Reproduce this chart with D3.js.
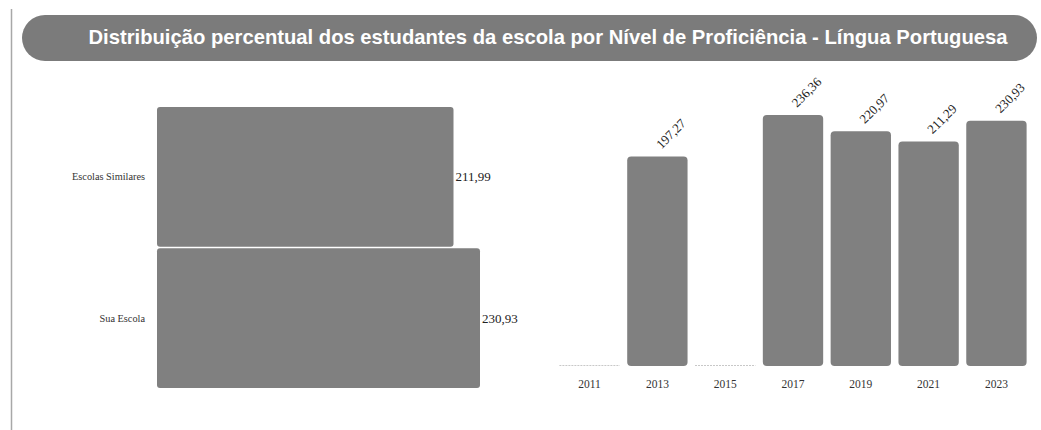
<!DOCTYPE html>
<html><head><meta charset="utf-8">
<script src="https://cdn.jsdelivr.net/npm/d3@7"></script>
<style>html,body{margin:0;padding:0;background:#fff;}svg{display:block;}</style>
</head><body>
<svg id="c" width="1041" height="430"></svg>
<script>
const titleText = "Distribuição percentual dos estudantes da escola por Nível de Proficiência - Língua Portuguesa";
const compCategories = ["Escolas Similares", "Sua Escola"];
const compValues = [211.99, 230.93];
const years = ["2011", "2013", "2015", "2017", "2019", "2021", "2023"];
const yearValues = [null, 197.27, null, 236.36, 220.97, 211.29, 230.93];

const fmt = v => v.toFixed(2).replace(".", ",");
const barColor = "#808080";
const serif = "Liberation Serif, Times New Roman, serif";
const svg = d3.select("#c");

// left border
svg.append("line").attr("x1", 11.5).attr("x2", 11.5).attr("y1", 9).attr("y2", 430)
  .attr("stroke", "#a8a8a8").attr("stroke-width", 1.5);

// title pill
svg.append("rect").attr("x", 22).attr("y", 15).attr("width", 1015).attr("height", 46)
  .attr("rx", 23).attr("fill", "#7b7b7b");
const tt = svg.append("text").attr("x", 548).attr("y", 44).attr("text-anchor", "middle")
  .attr("font-family", "Liberation Sans, Arial, sans-serif").attr("font-weight", "bold")
  .attr("font-size", 17).attr("fill", "#fff").text(titleText);
{
  const w = tt.node().getComputedTextLength();
  tt.attr("font-size", 17 * 920 / w);
}

// horizontal comparison chart
const xH = d3.scaleLinear().domain([0, 230.93]).range([157, 480]);
const yH = d3.scaleBand().domain(compCategories).range([107, 388]).paddingInner(0.01);
const gH = svg.append("g");
gH.selectAll("rect").data(compCategories).join("rect")
  .attr("x", xH(0)).attr("y", d => yH(d))
  .attr("width", (d, i) => xH(compValues[i]) - xH(0))
  .attr("height", yH.bandwidth()).attr("rx", 3).attr("fill", barColor);
gH.selectAll("text.cat").data(compCategories).join("text").attr("class", "cat")
  .attr("x", 145).attr("y", d => yH(d) + yH.bandwidth() / 2 + 3.5)
  .attr("text-anchor", "end").attr("font-family", serif)
  .attr("font-size", 10.3).attr("fill", "#333").text(d => d);
gH.selectAll("text.val").data(compCategories).join("text").attr("class", "val")
  .attr("x", (d, i) => xH(compValues[i]) + 2).attr("y", d => yH(d) + yH.bandwidth() / 2 + 4.5)
  .attr("font-family", serif)
  .attr("font-size", 13).attr("fill", "#222").text((d, i) => fmt(compValues[i]));

// vertical history chart
const xV = d3.scaleBand().domain(years).range([556, 1030]).paddingInner(0.11).paddingOuter(0.05);
const yV = d3.scaleLinear().domain([0, 236.36]).range([366, 115]);
const gV = svg.append("g");
years.forEach((yr, i) => {
  const v = yearValues[i];
  if (v == null) {
    gV.append("line").attr("x1", xV(yr)).attr("x2", xV(yr) + xV.bandwidth())
      .attr("y1", 365.5).attr("y2", 365.5).attr("stroke", "#c8c8c8").attr("stroke-width", 1)
      .attr("stroke-dasharray", "2,1");
  } else {
    gV.append("rect").attr("x", xV(yr)).attr("y", yV(v)).attr("width", xV.bandwidth())
      .attr("height", yV(0) - yV(v)).attr("rx", 4).attr("fill", barColor);
    const cx = xV(yr) + xV.bandwidth() / 2;
    gV.append("text").attr("transform", `translate(${cx + 4},${yV(v) - 7}) rotate(-45)`)
      .attr("font-family", serif)
      .attr("font-size", 13).attr("fill", "#222").text(fmt(v));
  }
});
const axis = d3.axisBottom(xV).tickSize(0).tickPadding(0);
const ga = gV.append("g").attr("transform", "translate(0,366)").call(axis);
ga.select(".domain").remove();
ga.selectAll("text").attr("y", 22).attr("dy", 0).attr("font-family", serif)
  .attr("font-size", 11.5).attr("fill", "#333");
</script>
</body></html>
